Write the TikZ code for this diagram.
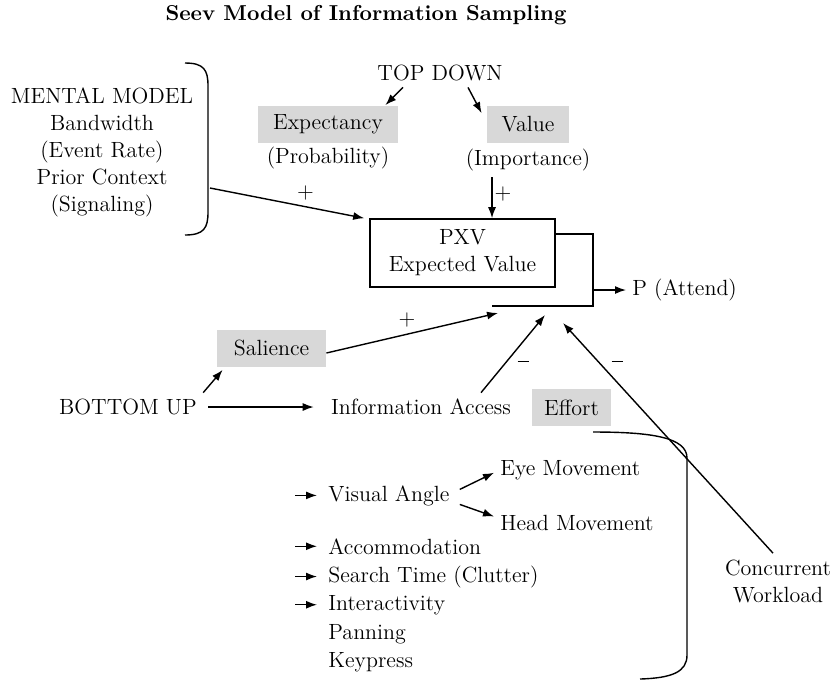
\documentclass[tikz,border=0pt]{standalone}
\usepackage{tikz}
\usetikzlibrary{positioning,arrows.meta}
\definecolor{boxshade}{RGB}{216,216,216}
\tikzset{
  txt/.style={font=\fontsize{11}{13.5}\selectfont, inner sep=3pt, align=center},
  greybox/.style={txt, fill=boxshade, inner xsep=6pt, minimum height=18.5pt},
  arr/.style={-{Latex[length=5.5pt,width=4pt]}, line width=0.7pt},
  plain/.style={line width=0.7pt},
}
\newcommand{\minussign}{\rule[2.6pt]{5.5pt}{0.7pt}}

\begin{document}
\begin{tikzpicture}[x=0.5pt,y=-0.5pt]
  \useasboundingbox (0,0) rectangle (838,682);
  \node[txt,font=\fontsize{10.8}{13.5}\selectfont\bfseries] (title) at (366,15) {Seev Model of Information Sampling};

  % top down part
  \node[txt] (topdown) at (440,73) {TOP DOWN};
  \node[greybox,minimum width=70pt] (expect) at (328,124) {Expectancy};
  \node[txt] (prob) at (328,158) {(Probability)};
  \node[greybox,minimum width=41pt] (value) at (528,124) {Value};
  \node[txt] (import) at (528,160) {(Importance)};
  \draw[arr] ([xshift=-18.5pt]topdown.south) -- ([xshift=-6.5pt]expect.north east);
  \draw[arr] ([xshift=14pt]topdown.south) -- ([xshift=-2.5pt,yshift=-4pt]value.north west);

  % mental model and its brace
  \node[txt] (mental) at (102,152) {MENTAL MODEL\\Bandwidth\\(Event Rate)\\Prior Context\\(Signaling)};
  \draw[plain] (185,63) .. controls (204,63) and (208,70) .. (208,86) -- (208,212) .. controls (208,228) and (204,235) .. (185,235);
  \coordinate (bracemid) at (210,188);

  % expected value box
  \node[txt,draw,line width=0.8pt,minimum width=92.5pt,minimum height=34pt] (pxv) at (462.5,253) {PXV\\Expected Value};
  \draw[arr] (bracemid) -- node[txt,above,pos=0.62] (plusa) {+} ([xshift=-2.5pt]pxv.north west);
  \draw[arr] ([xshift=-18pt]import.south) -- node[txt,right,inner sep=1pt,pos=0.4] (plusb) {+} ([xshift=-18pt]import.south |- pxv.north);

  % output
  \coordinate (jointop) at (593,234);
  \coordinate (joinbot) at (593,306);
  \coordinate (joinend) at (492,306);
  \coordinate (joinmid) at (593,290);
  \node[txt,anchor=west] (attend) at (626,290) {P (Attend)};
  \draw[plain] (pxv.east |- jointop) -- (jointop) -- (joinbot) -- (joinend);
  \draw[arr] (joinmid) -- (attend.west);

  % bottom up part
  \node[txt] (bottomup) at (128,407) {BOTTOM UP};
  \node[greybox,minimum width=54.5pt] (salience) at (271.5,348) {Salience};
  \node[txt] (access) at (421,407) {Information Access};
  \node[greybox,minimum width=37.5pt] (effort) at (571.5,407.5) {Effort};
  \node[txt] (concurrent) at (778,581) {Concurrent\\Workload};
  \draw[arr] (bottomup.north east) -- ([xshift=3pt,yshift=-1.5pt]salience.south west);
  \draw[arr,shorten <=2.5pt,shorten >=5.5pt] (bottomup.east) -- (access.west);

  \coordinate (tgtplus) at (498,313);
  \coordinate (tgtmid) at (545,315);
  \coordinate (tgtright) at (563,323);
  \draw[arr] ([yshift=-2.5pt]salience.east) -- node[txt,above,pos=0.47] (plusc) {+} (tgtplus);
  \draw[arr] ([xshift=30pt]access.north) -- (tgtmid);
  \node[txt] (minusa) at (523,364) {\minussign};
  \draw[arr] ([xshift=-2.5pt]concurrent.north) -- (tgtright);
  \node[txt] (minusb) at (617,364) {\minussign};

  % effort brace
  \draw[plain] (593,432) .. controls (650,432) and (687,437) .. (687,458) -- (687,655) .. controls (687,672) and (672,678) .. (640,679);

  % list of access costs
  \node[txt,anchor=base west] (visual) at (322,501) {Visual Angle};
  \node[txt,anchor=base west] (eye) at (494,475) {Eye Movement};
  \node[txt,anchor=base west] (head) at (494,530) {Head Movement};
  \node[txt,anchor=base west] (accom) at (322,554) {Accommodation};
  \node[txt,anchor=base west] (search) at (322,582) {Search Time (Clutter)};
  \node[txt,anchor=base west] (inter) at (322,610) {Interactivity};
  \node[txt,anchor=base west] (panning) at (322,639) {Panning};
  \node[txt,anchor=base west] (keypress) at (322,667) {Keypress};
  \foreach \n in {visual,accom,search,inter}
    \draw[arr] ([xshift=-13.5pt]\n.west) -- ([xshift=-2.5pt]\n.west);
  \draw[arr] ([xshift=2pt,yshift=3pt]visual.east) -- ([yshift=-1.5pt]eye.west);
  \draw[arr] ([xshift=2pt,yshift=-4.5pt]visual.east) -- ([yshift=3pt]head.west);
\end{tikzpicture}
\end{document}
